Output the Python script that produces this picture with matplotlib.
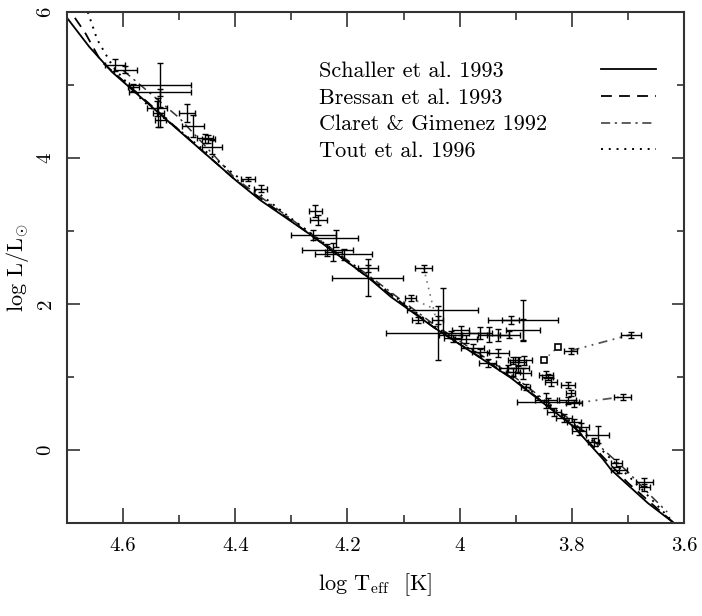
import matplotlib
matplotlib.use("Agg")
import matplotlib.pyplot as plt
import numpy as np

plt.rcParams['font.family'] = ['cmr10', 'DejaVu Serif']
plt.rcParams['mathtext.fontset'] = 'cm'
plt.rcParams['axes.unicode_minus'] = False
plt.rcParams['axes.formatter.use_mathtext'] = False

# ---- model tracks (log Teff, log L) ----
schaller_T = [4.70, 4.66, 4.62, 4.534, 4.40, 4.355, 4.266, 4.164, 4.123, 4.046, 3.909, 3.796, 3.745, 3.73, 3.70, 3.664, 3.618]
schaller_L = [5.92, 5.52, 5.18, 4.60, 3.70, 3.42, 2.95, 2.37, 2.10, 1.68, 0.99, 0.315, -0.12, -0.27, -0.48, -0.73, -1.0]

bressan_T = [4.686, 4.668, 4.64, 4.55, 4.40, 4.266, 4.164, 4.046, 3.909, 3.80, 3.75, 3.70, 3.66, 3.618]
bressan_L = [5.92, 5.72, 5.33, 4.72, 3.70, 2.95, 2.37, 1.68, 1.00, 0.35, -0.05, -0.45, -0.72, -1.0]

claret_T = [4.60, 4.50, 4.40, 4.266, 4.164, 4.046, 3.909, 3.80, 3.75, 3.70, 3.66, 3.63]
claret_L = [5.20, 4.55, 3.72, 2.97, 2.40, 1.72, 1.04, 0.40, 0.05, -0.30, -0.62, -0.85]

tout_T = [4.663, 4.646, 4.618, 4.566, 4.516, 4.4625, 4.404, 4.30, 4.164, 4.046, 3.909, 3.80, 3.76, 3.72, 3.68, 3.64, 3.618]
tout_L = [6.00, 5.62, 5.25, 4.79, 4.48, 4.15, 3.79, 3.17, 2.38, 1.70, 1.02, 0.38, 0.10, -0.20, -0.50, -0.82, -1.0]

# ---- observed stars ----
star_T = [4.614, 4.596, 4.534, 4.534, 4.582, 4.539, 4.537, 4.534, 4.486, 4.475,
          4.454, 4.448, 4.441, 4.377, 4.355, 4.257, 4.252, 4.261, 4.221, 4.236,
          4.225, 4.207, 4.164, 4.164, 4.064, 4.087, 4.030, 4.075, 4.039, 4.039,
          4.016, 3.998, 4.012, 3.989, 3.963, 3.948, 3.932, 3.912, 3.887, 3.909,
          3.887, 3.977, 3.963, 3.932, 3.950, 3.904, 3.896, 3.886, 3.896, 3.887,
          3.802, 3.695, 3.843, 3.837, 3.807, 3.802, 3.843, 3.846, 3.807, 3.796,
          3.709, 3.832, 3.814, 3.796, 3.784, 3.754, 3.761, 3.721, 3.716, 3.671,
          3.671, 3.914, 3.904, 3.846, 3.882, 3.787]
star_L = [5.27, 5.21, 5.00, 4.90, 4.97, 4.68, 4.62, 4.52, 4.62, 4.44,
          4.27, 4.26, 4.15, 3.71, 3.58, 3.27, 3.15, 2.95, 2.90, 2.74,
          2.71, 2.68, 2.49, 2.36, 2.49, 2.08, 1.92, 1.78, 1.78, 1.60,
          1.58, 1.64, 1.53, 1.52, 1.60, 1.58, 1.58, 1.58, 1.78, 1.78,
          1.64, 1.40, 1.34, 1.33, 1.19, 1.23, 1.21, 1.23, 1.12, 1.05,
          1.36, 1.58, 1.00, 0.93, 0.89, 0.78, 0.66, 0.68, 0.68, 0.64,
          0.73, 0.52, 0.44, 0.38, 0.32, 0.21, 0.11, -0.18, -0.27, -0.44,
          -0.51, 1.12, 1.07, 1.03, 0.86, 0.26]
star_dT = [0.018, 0.020, 0.055, 0.055, 0.010, 0.018, 0.010, 0.010, 0.015, 0.020,
           0.015, 0.012, 0.018, 0.012, 0.012, 0.012, 0.015, 0.040, 0.040, 0.045,
           0.015, 0.050, 0.018, 0.063, 0.015, 0.010, 0.063, 0.010, 0.010, 0.092,
           0.020, 0.015, 0.015, 0.020, 0.020, 0.020, 0.020, 0.020, 0.063, 0.015,
           0.030, 0.020, 0.015, 0.020, 0.015, 0.010, 0.015, 0.015, 0.020, 0.015,
           0.012, 0.018, 0.010, 0.010, 0.012, 0.008, 0.055, 0.020, 0.015, 0.015,
           0.015, 0.012, 0.015, 0.012, 0.015, 0.020, 0.010, 0.010, 0.015, 0.015,
           0.010, 0.015, 0.012, 0.012, 0.008, 0.012]
star_dL = [0.08, 0.05, 0.30, 0.05, 0.05, 0.10, 0.20, 0.10, 0.12, 0.15,
           0.06, 0.06, 0.10, 0.03, 0.05, 0.08, 0.07, 0.07, 0.12, 0.08,
           0.12, 0.08, 0.05, 0.25, 0.05, 0.04, 0.30, 0.04, 0.06, 0.37,
           0.05, 0.06, 0.05, 0.05, 0.08, 0.10, 0.08, 0.05, 0.27, 0.05,
           0.15, 0.05, 0.05, 0.05, 0.05, 0.05, 0.06, 0.06, 0.05, 0.08,
           0.04, 0.04, 0.04, 0.05, 0.04, 0.04, 0.05, 0.10, 0.05, 0.05,
           0.04, 0.05, 0.05, 0.05, 0.05, 0.12, 0.05, 0.05, 0.05, 0.05,
           0.05, 0.05, 0.05, 0.05, 0.04, 0.05]

# stars without error bars (square symbols)
sq_T = [3.825, 3.850]
sq_L = [1.41, 1.23]

# connecting lines between related components
link1_T = [4.064, 4.043]
link1_L = [2.49, 1.82]
link2_T = [3.850, 3.825]
link2_L = [1.23, 1.41]
link3_T = [3.802, 3.695]
link3_L = [1.36, 1.58]
link4_T = [3.796, 3.709]
link4_L = [0.64, 0.73]
link5_T = [4.087, 4.050]
link5_L = [2.08, 1.95]

labels = ["Schaller et al. 1993", "Bressan et al. 1993",
          "Claret & Gimenez 1992", "Tout et al. 1996"]

xticks = [4.6, 4.4, 4.2, 4.0, 3.8, 3.6]
xticklabels = ["4.6", "4.4", "4.2", "4", "3.8", "3.6"]
yticks = [0, 2, 4, 6]
yticklabels = ["0", "2", "4", "6"]

fig = plt.figure(figsize=(7.02, 6.16), dpi=100)
ax = fig.add_axes([67 / 702, 1 - 523 / 616, (684 - 67) / 702, 511 / 616])

lw = 1.3
h1, = ax.plot(schaller_T, schaller_L, color='black', lw=lw, ls='-')
h2, = ax.plot(bressan_T, bressan_L, color='black', lw=lw, ls=(0, (6, 4)))
h3, = ax.plot(claret_T, claret_L, color='#333333', lw=1.1, ls=(0, (6, 3, 1.5, 3)))
h4, = ax.plot(tout_T, tout_L, color='black', lw=1.4, ls=(0, (1, 3)))

for lt, ll in [(link1_T, link1_L), (link2_T, link2_L), (link5_T, link5_L)]:
    ax.plot(lt, ll, color='#777777', lw=1.2, ls=(0, (1, 3)))
for lt, ll in [(link3_T, link3_L), (link4_T, link4_L)]:
    ax.plot(lt, ll, color='#555555', lw=1.3, ls=(0, (5, 3, 1, 3, 1, 3)))

ax.errorbar(star_T, star_L, xerr=star_dT, yerr=star_dL, fmt='none',
            ecolor='black', elinewidth=1.0, capsize=2, capthick=1.0)
ax.plot(sq_T, sq_L, ls='none', marker='s', ms=4, mfc='white', mec='black', mew=1.2)

ax.set_xlim(4.7, 3.6)
ax.set_ylim(-1, 6)
ax.set_xticks(xticks)
ax.set_xticklabels(xticklabels)
ax.set_yticks(yticks)
ax.set_yticklabels(yticklabels, rotation=90, va='center')
ax.set_xticks(np.arange(3.7, 4.75, 0.2), minor=True)
ax.set_yticks([-1, 1, 3, 5], minor=True)

ax.tick_params(axis='both', which='both', direction='in', top=True, right=True,
               labelsize=15, width=1.2, color='#333333')
ax.tick_params(axis='x', which='major', length=11, pad=10)
ax.tick_params(axis='x', which='minor', length=6)
ax.tick_params(axis='y', which='major', length=9, pad=9)
ax.tick_params(axis='y', which='minor', length=5)
for s in ax.spines.values():
    s.set_linewidth(1.5)
    s.set_color('#333333')

ax.set_xlabel(r'log T$_{\rm eff}$  [K]', fontsize=16, labelpad=12)
ax.set_ylabel(r'log L/L$_{\odot}$', fontsize=16, labelpad=4)

# legend: text column and line column as two legends
leg_text = ax.legend([h1, h2, h3, h4], labels, loc='upper left',
                     bbox_to_anchor=(0.408, 0.903), frameon=False, fontsize=16,
                     handlelength=0, handletextpad=0, labelspacing=0.32,
                     borderaxespad=0, borderpad=0)
for h in leg_text.legend_handles:
    h.set_visible(False)
ax.add_artist(leg_text)
leg_lines = ax.legend([h1, h2, h3, h4], ["", "", "", ""], loc='upper left',
                      bbox_to_anchor=(0.865, 0.903), frameon=False, fontsize=16,
                      handlelength=2.5, handletextpad=0, labelspacing=0.32,
                      borderaxespad=0, borderpad=0)

fig.savefig('out.png', dpi=100)
